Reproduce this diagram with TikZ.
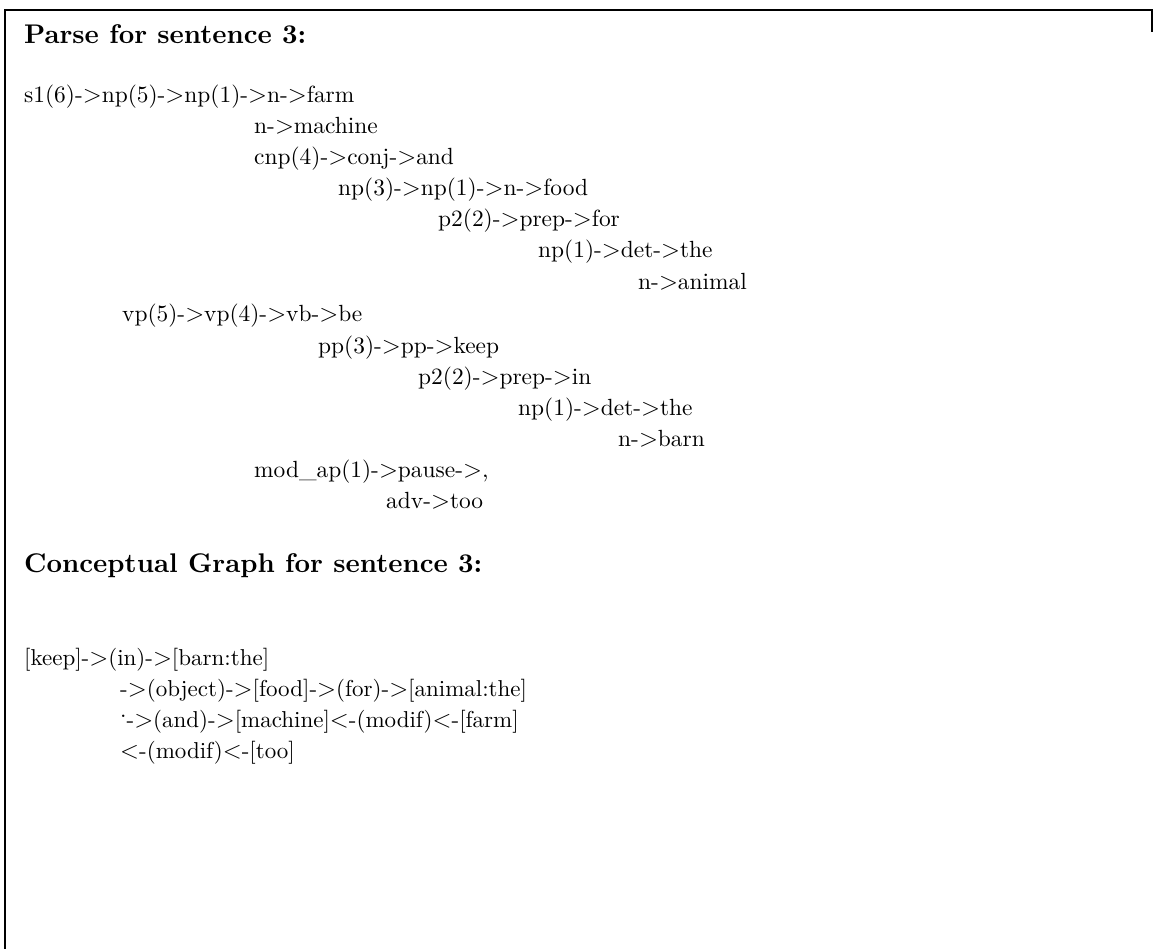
\documentclass[tikz,border=0pt]{standalone}
\usepackage{fontspec}
\setmainfont{lmroman10-regular.otf}[BoldFont=lmroman10-bold.otf]
\newcommand{\ar}{-$>$}
\newcommand{\al}{$<$-}
\begin{document}
\begin{tikzpicture}[x=1pt,y=-1pt,
  line/.style={anchor=base west,inner sep=0pt,font=\fontsize{23.4}{28}\selectfont},
  gline/.style={anchor=base west,inner sep=0pt,font=\fontsize{23}{28}\selectfont},
  head/.style={anchor=base west,inner sep=0pt,font=\fontsize{27}{32}\selectfont\bfseries},
  frame/.style={draw=black,line width=1.6pt}]
\useasboundingbox (0,0) rectangle (1153,949);
% open frame: top rule, left rule, short right stub
\draw[frame] (5,949) -- (5,10) -- (1152,10) -- (1152,32);
% parse tree
\node[head] (h1) at (24,44) {Parse for sentence 3:};
\node[line] (p1)  at (24,103)  {s1(6)\ar np(5)\ar np(1)\ar n\ar farm};
\node[line] (p2)  at (254,134) {n\ar machine};
\node[line] (p3)  at (254,165) {cnp(4)\ar conj\ar and};
\node[line] (p4)  at (338,196) {np(3)\ar np(1)\ar n\ar food};
\node[line] (p5)  at (438,227) {p2(2)\ar prep\ar for};
\node[line] (p6)  at (538,258) {np(1)\ar det\ar the};
\node[line] (p7)  at (638,290) {n\ar animal};
\node[line] (p8)  at (122,322) {vp(5)\ar vp(4)\ar vb\ar be};
\node[line] (p9)  at (318,353) {pp(3)\ar pp\ar keep};
\node[line] (p10) at (418,384) {p2(2)\ar prep\ar in};
\node[line] (p11) at (518,415) {np(1)\ar det\ar the};
\node[line] (p12) at (618,446) {n\ar barn};
\node[line] (p13) at (254,477) {mod\_ap(1)\ar pause\ar ,};
\node[line] (p14) at (386,508) {adv\ar too};
% conceptual graph
\node[head] (h2) at (24,572) {Conceptual Graph for sentence 3:};
\node[gline] (g1) at (24,665)  {[keep]\ar (in)\ar [barn:the]};
\node[gline] (g2) at (120,696) {\ar (object)\ar [food]\ar (for)\ar [animal:the]};
\node[gline] (g3) at (120,727) {\raisebox{0.42em}{.}\ar (and)\ar [machine]\al (modif)\al [farm]};
\node[gline] (g4) at (120,758) {\al (modif)\al [too]};
\end{tikzpicture}
\end{document}
